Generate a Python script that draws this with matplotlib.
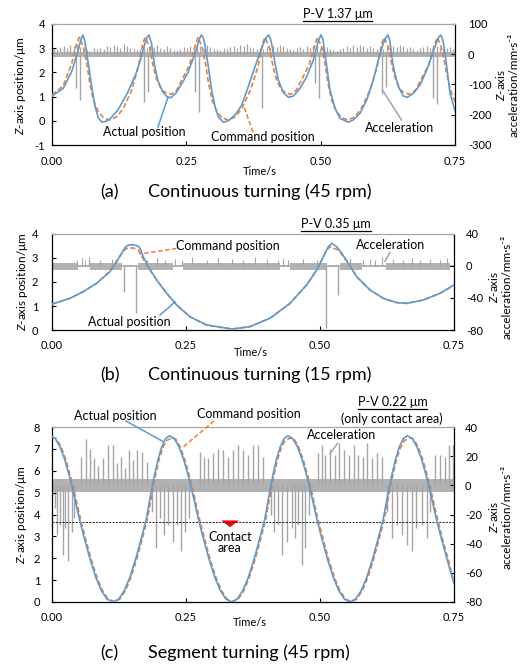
import numpy as np
import matplotlib
matplotlib.use('Agg')
import matplotlib.pyplot as plt
from matplotlib.lines import Line2D

plt.rcParams['font.family'] = ['Lato', 'DejaVu Sans']
plt.rcParams['axes.unicode_minus'] = False
plt.rcParams['mathtext.fontset'] = 'custom'
plt.rcParams['mathtext.it'] = 'Lato:italic'
plt.rcParams['mathtext.rm'] = 'Lato'

# ---------------- data ----------------
x_ticks = [0.0, 0.25, 0.5, 0.75]
x_tick_labels = ['0.00', '0.25', '0.50', '0.75']

# Panel (a) continuous turning 45 rpm : (time s, position um)
a_actual = [
 (0.0000,1.02),(0.0210,1.34),(0.0367,2.03),(0.0489,2.93),(0.0536,3.35),(0.0573,3.55),(0.0610,3.30),
 (0.0676,2.37),(0.0739,1.41),(0.0800,0.60),(0.0862,0.12),(0.0925,-0.05),(0.1005,-0.02),(0.1080,0.08),
 (0.1228,0.45),(0.1415,1.20),(0.1563,1.95),(0.1656,2.60),(0.1731,3.20),(0.1768,3.45),(0.1802,3.55),
 (0.1852,3.20),(0.1908,2.30),(0.1973,1.65),(0.2057,1.20),(0.2150,0.97),(0.2215,0.96),(0.2308,1.15),
 (0.2420,1.55),(0.2531,2.00),(0.2624,2.55),(0.2708,3.10),(0.2745,3.40),(0.2782,3.55),(0.2820,3.40),
 (0.2848,3.10),(0.2909,2.24),(0.2972,1.27),(0.3034,0.58),(0.3095,0.17),(0.3188,-0.06),(0.3281,0.00),
 (0.3406,0.24),(0.3531,0.65),(0.3653,1.41),(0.3778,2.24),(0.3903,3.00),(0.3973,3.40),(0.4029,3.55),
 (0.4067,3.38),(0.4104,3.00),(0.4150,2.37),(0.4212,1.69),(0.4305,1.17),(0.4398,0.97),(0.4491,1.02),
 (0.4616,1.34),(0.4740,1.82),(0.4863,2.51),(0.4932,3.10),(0.4969,3.38),(0.5007,3.55),(0.5044,3.35),
 (0.5113,2.24),(0.5174,1.27),(0.5267,0.51),(0.5360,0.10),(0.5515,-0.06),(0.5608,0.04),(0.5732,0.31),
 (0.5857,0.86),(0.5980,1.69),(0.6073,2.51),(0.6166,3.20),(0.6211,3.42),(0.6248,3.55),(0.6285,3.35),
 (0.6328,2.60),(0.6365,2.10),(0.6445,1.41),(0.6538,1.02),(0.6613,0.97),(0.6724,1.13),(0.6849,1.48),
 (0.6974,2.10),(0.7097,2.86),(0.7171,3.34),(0.7201,3.47),(0.7234,3.55),(0.7272,3.35),(0.7296,3.06),
 (0.7346,2.24),(0.7408,1.13),(0.7500,0.42)]

a_command = [
 (0.0000,1.07),(0.0210,1.45),(0.0367,2.37),(0.0447,3.10),(0.0508,3.45),(0.0583,3.06),(0.0648,2.37),
 (0.0704,1.55),(0.0769,0.86),(0.0862,0.38),(0.0955,0.13),(0.1076,0.03),(0.1206,0.17),(0.1327,0.52),
 (0.1485,1.27),(0.1606,2.24),(0.1690,3.20),(0.1736,3.45),(0.1820,3.00),(0.1885,2.24),(0.1950,1.69),
 (0.2043,1.27),(0.2137,1.14),(0.2220,1.10),(0.2323,1.27),(0.2416,1.69),(0.2559,2.30),(0.2671,3.15),
 (0.2717,3.45),(0.2792,3.06),(0.2857,2.37),(0.2913,1.55),(0.2978,0.86),(0.3071,0.38),(0.3164,0.13),
 (0.3285,0.03),(0.3415,0.17),(0.3536,0.52),(0.3694,1.27),(0.3834,2.24),(0.3918,3.20),(0.3964,3.45),
 (0.4048,3.00),(0.4113,2.24),(0.4178,1.69),(0.4271,1.27),(0.4364,1.14),(0.4448,1.10),(0.4550,1.27),
 (0.4644,1.69),(0.4783,2.30),(0.4895,3.15),(0.4941,3.45),(0.5016,3.06),(0.5081,2.37),(0.5137,1.55),
 (0.5202,0.86),(0.5295,0.38),(0.5388,0.13),(0.5509,0.03),(0.5639,0.17),(0.5760,0.52),(0.5918,1.27),
 (0.6052,2.24),(0.6136,3.20),(0.6183,3.45),(0.6266,3.00),(0.6331,2.24),(0.6397,1.69),(0.6490,1.27),
 (0.6583,1.14),(0.6666,1.10),(0.6769,1.27),(0.6862,1.69),(0.7011,2.30),(0.7122,3.15),(0.7169,3.45),
 (0.7243,3.06),(0.7309,2.37),(0.7379,1.60),(0.7444,1.10),(0.7500,0.80)]

# acceleration (mm/s^2): regular small upward pulses, deep downward pulses, noise band
a_acc_up_start = 0.003
a_acc_up_step = 0.0062
a_acc_up = [22,18,25,28,20,30,26,33,24,18,14,12,20,16,22,18,26,24,30,28,22,35,26,20,16,14,18,22,20,27,
            24,30,22,18,26,20,15,13,18,24,20,28,25,32,27,22,30,24,18,16,14,20,17,24,28,22,30,26,34,24,
            20,16,22,18,25,20,28,24,32,26,22,18,15,20,24,19,27,22,30,26,21,28,24,18,14,12,18,22,26,20,
            30,25,32,28,22,26,20,16,14,18,24,20,28,23,30,26,20,24,18,15,20,25,28,22,30,26,20,17,22,25,19]
a_acc_down = [(0.0452,-113),(0.0521,-151),(0.1718,-157),(0.1792,-124),(0.2661,-124),(0.2736,-190),
              (0.3914,-179),(0.4895,-96),(0.4975,-146),(0.6136,-130),(0.6216,-107),(0.7097,-146),(0.7171,-165)]
a_band = (-8, 6)

# Panel (b) continuous turning 15 rpm
b_actual = [
 (0.0000,1.08),(0.0336,1.32),(0.0584,1.60),(0.0834,1.95),(0.1082,2.43),(0.1207,2.85),(0.1300,3.20),
 (0.1362,3.44),(0.1424,3.54),(0.1511,3.55),(0.1604,3.50),(0.1642,3.40),(0.1703,3.05),(0.1797,2.64),
 (0.1953,2.08),(0.2140,1.53),(0.2327,1.04),(0.2575,0.55),(0.2886,0.21),(0.3358,0.04),(0.3694,0.14),
 (0.4067,0.49),(0.4440,1.11),(0.4752,1.88),(0.4938,2.50),(0.5062,3.05),(0.5155,3.47),(0.5218,3.61),
 (0.5312,3.47),(0.5405,3.20),(0.5528,2.78),(0.5685,2.22),(0.5933,1.67),(0.6181,1.32),(0.6431,1.14),
 (0.6618,1.11),(0.6927,1.25),(0.7239,1.53),(0.7500,1.88)]
b_command = [
 (0.0000,1.08),(0.0336,1.32),(0.0584,1.60),(0.0834,1.95),(0.1082,2.45),(0.1237,2.99),(0.1343,3.30),
 (0.1394,3.40),(0.1511,3.42),(0.1610,3.33),(0.1767,2.71),(0.1953,2.08),(0.2140,1.53),(0.2327,1.04),
 (0.2575,0.55),(0.2886,0.20),(0.3358,0.04),(0.3694,0.14),(0.4067,0.49),(0.4440,1.11),(0.4752,1.88),
 (0.4938,2.50),(0.5062,3.05),(0.5112,3.30),(0.5187,3.47),(0.5341,3.33),(0.5528,2.78),(0.5685,2.22),
 (0.5933,1.67),(0.6181,1.32),(0.6431,1.14),(0.6618,1.11),(0.6927,1.25),(0.7239,1.53),(0.7500,1.86)]
b_acc_up = [(0.0473,8),(0.0553,10),(0.0616,7),(0.0697,11),(0.0896,8),(0.1113,9),(0.1766,8),(0.1953,10),
            (0.2108,7),(0.2295,9),(0.2419,8),(0.2606,11),(0.2886,8),(0.3103,10),(0.3352,9),(0.3570,8),
            (0.3787,11),(0.4005,9),(0.4223,8),(0.4316,10),(0.4409,7),(0.4689,9),(0.4938,8),(0.5560,10),
            (0.5808,8),(0.5933,9),(0.6026,7),(0.6151,11),(0.6368,9),(0.6555,8),(0.6710,10),(0.6866,8),
            (0.7052,9),(0.7239,7),(0.7363,10)]
b_acc_down = [(0.134,-32),(0.157,-59),(0.512,-77),(0.534,-36)]
b_band_segments = [(0.0,0.049),(0.071,0.130),(0.161,0.226),(0.245,0.425),(0.444,0.5125),(0.537,0.578),(0.624,0.7425)]
b_band = (-4.5, 4.0)
b_band_thin = (-1.8, 1.8)

# Panel (c) segment turning 45 rpm
c_actual = [
 (0.000,7.56),(0.006,7.47),(0.015,7.09),(0.024,6.49),(0.033,5.70),(0.042,4.78),(0.051,3.80),(0.0613,2.82),
 (0.0717,1.90),(0.082,1.11),(0.0923,0.51),(0.1027,0.13),(0.114,0.00),
 (0.1243,0.13),(0.1347,0.51),(0.145,1.11),(0.1553,1.90),(0.1657,2.82),(0.176,3.80),(0.1832,4.78),
 (0.1903,5.70),(0.1975,6.49),(0.2047,7.09),(0.2118,7.47),(0.219,7.60),
 (0.228,7.47),(0.237,7.09),(0.246,6.49),(0.255,5.70),(0.264,4.78),(0.273,3.80),(0.2833,2.82),(0.2937,1.90),
 (0.304,1.11),(0.3143,0.51),(0.3247,0.13),(0.335,0.00),
 (0.3453,0.13),(0.3557,0.51),(0.366,1.11),(0.3763,1.90),(0.3867,2.82),(0.397,3.80),(0.4042,4.78),
 (0.4113,5.70),(0.4185,6.49),(0.4257,7.09),(0.4328,7.47),(0.440,7.60),
 (0.449,7.47),(0.458,7.09),(0.467,6.49),(0.476,5.70),(0.485,4.78),(0.494,3.80),(0.5043,2.82),(0.5147,1.90),
 (0.525,1.11),(0.5353,0.51),(0.5457,0.13),(0.556,0.00),
 (0.5663,0.13),(0.5767,0.51),(0.587,1.11),(0.5973,1.90),(0.6077,2.82),(0.618,3.80),(0.6255,4.78),
 (0.633,5.70),(0.6405,6.49),(0.648,7.09),(0.6555,7.47),(0.663,7.60),
 (0.672,7.47),(0.681,7.09),(0.690,6.49),(0.699,5.70),(0.708,4.78),(0.717,3.80),(0.7273,2.82),(0.7377,1.90),
 (0.750,0.85)]
c_command = [
 (0.000,7.55),(0.008,7.47),(0.017,7.09),(0.026,6.49),(0.035,5.70),(0.044,4.78),(0.053,3.80),(0.0633,2.82),
 (0.0737,1.90),(0.084,1.11),(0.0943,0.51),(0.1047,0.13),(0.116,0.02),
 (0.1263,0.13),(0.1367,0.51),(0.147,1.11),(0.1573,1.90),(0.1677,2.82),(0.178,3.80),(0.1852,4.78),
 (0.1923,5.70),(0.1995,6.49),(0.2067,7.05),(0.2138,7.38),(0.221,7.47),(0.226,7.50),(0.231,7.44),
 (0.239,7.09),(0.248,6.49),(0.257,5.70),(0.266,4.78),(0.275,3.80),(0.2853,2.82),(0.2957,1.90),(0.306,1.11),
 (0.3163,0.51),(0.3267,0.13),(0.337,0.02),
 (0.3473,0.13),(0.3577,0.51),(0.368,1.11),(0.3783,1.90),(0.3887,2.82),(0.399,3.80),(0.4062,4.78),
 (0.4133,5.70),(0.4205,6.49),(0.4277,7.05),(0.4348,7.38),(0.442,7.47),(0.447,7.50),(0.452,7.44),
 (0.460,7.09),(0.469,6.49),(0.478,5.70),(0.487,4.78),(0.496,3.80),(0.5063,2.82),(0.5167,1.90),(0.527,1.11),
 (0.5373,0.51),(0.5477,0.13),(0.558,0.02),
 (0.5683,0.13),(0.5787,0.51),(0.589,1.11),(0.5993,1.90),(0.6097,2.82),(0.620,3.80),(0.6275,4.78),
 (0.635,5.70),(0.6425,6.49),(0.650,7.05),(0.6575,7.38),(0.665,7.47),(0.670,7.50),(0.675,7.44),
 (0.683,7.09),(0.692,6.49),(0.701,5.70),(0.710,4.78),(0.719,3.80),(0.7293,2.82),(0.7397,1.90),(0.750,0.88)]
c_acc_up = [(0.055,19.6),(0.063,32),(0.071,25),(0.079,18.5),(0.086,13),(0.096,18.5),(0.105,27.7),(0.113,27.7),
            (0.121,15),(0.129,19.6),(0.136,11.7),(0.144,24.3),(0.152,17.4),(0.159,24.3),(0.167,23.2),(0.177,16.3),
            (0.276,23.2),(0.2836,19.6),(0.2916,18.5),(0.301,21.9),(0.310,25),(0.3196,24.3),(0.329,19.6),
            (0.338,24.3),(0.3476,27.7),(0.357,24.3),(0.366,20.8),(0.3756,27.7),(0.385,27.7),(0.394,19.6),
            (0.497,21.9),(0.503,27.7),(0.509,20.8),(0.519,25),(0.528,20.8),(0.536,28.8),(0.545,24.3),
            (0.555,20.8),(0.563,27.7),(0.5715,20.8),(0.581,19.6),(0.588,28.8),(0.5976,18.5),(0.606,21.9),
            (0.615,19.6),(0.7146,20.8),(0.724,20.8),(0.733,19.6),(0.741,27.7),(0.7476,27.7)]
c_acc_down = [(0.006,-15.8),(0.010,-34),(0.015,-27),(0.020,-48),(0.024,-29.5),(0.030,-52),(0.037,-31.8),
              (0.041,-22.6),(0.186,-18),(0.194,-43),(0.2015,-22.6),(0.209,-34),(0.217,-27),(0.225,-38.6),
              (0.233,-27),(0.240,-45),(0.248,-31.8),(0.256,-22.6),(0.408,-20),(0.414,-31.8),(0.422,-27),
              (0.430,-48),(0.439,-38.6),(0.447,-29.5),(0.453,-36),(0.4595,-27),(0.466,-54.6),(0.472,-43),
              (0.480,-20),(0.6245,-18),(0.634,-36),(0.643,-27),(0.6525,-34),(0.662,-40.9),(0.671,-45),
              (0.680,-29.5),(0.690,-27),(0.699,-36),(0.705,-18)]
c_band = (-4.6, 4.6)
c_contact_level = 3.67

# ---------------- style ----------------
BLUE = '#5B9BD5'
ORANGE = '#ED7D31'
GRAY = '#A5A5A5'
BAND = '#B2B2B2'
W, H = 523, 668
FS_TICK = 8
FS_ANN = 9
FS_LAB = 8.5
FS_CAP = 13

fig = plt.figure(figsize=(W / 100, H / 100), dpi=100)
fig.patch.set_facecolor('white')


def P(px, py):
    return (px / W, 1 - py / H)


def make_panel(box, ylim, yticks, y2lim, y2ticks, lpad, rpad, xpad):
    l, t, r, b = box
    ax = fig.add_axes([l / W, 1 - b / H, (r - l) / W, (b - t) / H])
    ax2 = ax.twinx()
    ax.set_zorder(ax2.get_zorder() + 1)
    ax.patch.set_visible(False)
    ax.set_xlim(0, 0.75)
    ax.set_xticks(x_ticks)
    ax.set_xticklabels(x_tick_labels)
    ax.set_ylim(*ylim)
    ax.set_yticks(yticks)
    ax2.set_ylim(*y2lim)
    ax2.set_yticks(y2ticks)
    for s in ['left', 'bottom']:
        ax.spines[s].set_color('black')
        ax.spines[s].set_linewidth(0.9)
    ax.spines['top'].set_color('#A6A6A6')
    ax.spines['top'].set_linewidth(0.9)
    ax.spines['right'].set_visible(False)
    for s in ['left', 'bottom', 'top']:
        ax2.spines[s].set_visible(False)
    ax2.spines['right'].set_color('black')
    ax2.spines['right'].set_linewidth(0.9)
    ax.tick_params(axis='x', direction='in', length=3, width=0.8, pad=xpad, labelsize=FS_TICK, top=False)
    ax.tick_params(axis='y', direction='in', length=3, width=0.8, pad=lpad, labelsize=FS_TICK, right=False)
    ax2.tick_params(axis='y', direction='in', length=3, width=0.8, pad=rpad, labelsize=FS_TICK)
    return ax, ax2


def curves(ax, actual, command):
    ta, za = zip(*actual)
    tc, zc = zip(*command)
    ax.plot(tc, zc, color=ORANGE, lw=1.2, ls=(0, (3, 1.6)), zorder=3)
    ax.plot(ta, za, color=BLUE, lw=1.2, zorder=4)


def spikes(ax2, pairs, lw=0.9):
    t, v = zip(*pairs)
    ax2.vlines(t, 0, v, colors=GRAY, lw=lw)


def leader(x0, y0, x1, y1, color, ls='-'):
    fig.add_artist(Line2D([x0 / W, x1 / W], [1 - y0 / H, 1 - y1 / H], transform=fig.transFigure,
                          color=color, lw=1.1, ls=ls))


def txt(px, py, s, size=FS_ANN, **kw):
    return fig.text(px / W, 1 - py / H, s, ha=kw.pop('ha', 'center'), va=kw.pop('va', 'center'),
                    fontsize=size, **kw)


def underlined(px, py_base, s, size=FS_ANN):
    t = fig.text(px / W, 1 - py_base / H, s, ha='center', va='baseline', fontsize=size)
    fig.canvas.draw()
    bb = t.get_window_extent()
    yy = 1 - (py_base + 2.6) / H
    fig.add_artist(Line2D([bb.x0 / W, bb.x1 / W], [yy, yy], transform=fig.transFigure, color='black', lw=0.9))


ylab = r'$Z$-axis position/μm'
y2lab = '$Z$-axis\nacceleration/mm·s⁻²'

# ---------------- panel (a) ----------------
ax, ax2 = make_panel((52, 24, 455, 145), (-1, 4), [-1, 0, 1, 2, 3, 4], (-300, 100),
                     [-300, -200, -100, 0, 100], 5, 9.4, 8)
ax2.axhspan(a_band[0], a_band[1], color=BAND, lw=0)
a_up_t = a_acc_up_start + a_acc_up_step * np.arange(len(a_acc_up))
ax2.vlines(a_up_t, 0, a_acc_up, colors=GRAY, lw=0.9)
spikes(ax2, a_acc_down, lw=1.0)
curves(ax, a_actual, a_command)
txt(21, 86, ylab, FS_LAB, rotation=90)
txt(507, 85, y2lab, FS_LAB, rotation=90, multialignment='center')
txt(260, 172, 'Time/s', 8)
txt(144.5, 132, 'Actual position')
leader(158, 127, 168, 97, BLUE)
txt(263, 137, 'Command position')
leader(253, 132, 244, 107, ORANGE, ls=(0, (3, 1.6)))
txt(399.5, 128, 'Acceleration')
leader(401.5, 120, 382.5, 90, GRAY)
underlined(337.5, 18.5, 'P-V 1.37 μm')
txt(100, 192, '(a)', FS_CAP, ha='left')
txt(148, 192, 'Continuous turning (45 rpm)', FS_CAP, ha='left')

# ---------------- panel (b) ----------------
ax, ax2 = make_panel((52, 234, 454, 330), (0, 4), [0, 1, 2, 3, 4], (-80, 40),
                     [-80, -40, 0, 40], 10, 8.6, 7.5)
ax2.axhspan(b_band_thin[0], b_band_thin[1], color=BAND, lw=0)
for s0, s1 in b_band_segments:
    ax2.fill_between([s0, s1], b_band[0], b_band[1], color=BAND, lw=0)
spikes(ax2, b_acc_up, lw=0.8)
spikes(ax2, b_acc_down, lw=1.0)
curves(ax, b_actual, b_command)
txt(23, 282, ylab, FS_LAB, rotation=90)
txt(500, 287, y2lab, FS_LAB, rotation=90, multialignment='center')
txt(251, 352, 'Time/s', 8)
txt(228, 246, 'Command position')
leader(176.5, 248.5, 140, 254, ORANGE, ls=(0, (3, 1.6)))
txt(129.5, 322.5, 'Actual position')
leader(160, 315, 175, 302, BLUE)
txt(390.5, 245, 'Acceleration')
leader(390, 252.5, 385, 261.5, GRAY)
underlined(336, 228.5, 'P-V 0.35 μm')
txt(100, 375, '(b)', FS_CAP, ha='left')
txt(148, 375, 'Continuous turning (15 rpm)', FS_CAP, ha='left')

# ---------------- panel (c) ----------------
ax, ax2 = make_panel((52, 427, 454, 602), (0, 8), list(range(0, 9)), (-80, 40),
                     [-80, -60, -40, -20, 0, 20, 40], 8.5, 8, 7)
ax2.axhspan(c_band[0], c_band[1], color=BAND, lw=0)
spikes(ax2, c_acc_up, lw=1.0)
spikes(ax2, c_acc_down, lw=1.0)
ax.axhline(c_contact_level, color='black', lw=0.6, ls=(0, (2.5, 1.5)), zorder=2)
curves(ax, c_actual, c_command)
txt(22, 515, ylab, FS_LAB, rotation=90)
txt(500, 517, y2lab, FS_LAB, rotation=90, multialignment='center')
txt(250, 622, 'Time/s', 8)
txt(115, 416, 'Actual position')
leader(126, 421, 163, 441.5, BLUE)
txt(249, 413.5, 'Command position')
leader(214, 421, 182, 448, ORANGE, ls=(0, (3, 1.6)))
txt(341.7, 435, 'Acceleration')
leader(337.5, 443.5, 330, 453.5, GRAY)
underlined(392.5, 406.5, 'P-V 0.22 μm')
txt(392, 419, '(only contact area)')
fig.add_artist(matplotlib.patches.FancyArrowPatch(P(230, 519.5), P(230, 530), transform=fig.transFigure,
               arrowstyle='simple,head_width=0.9,head_length=0.35,tail_width=0.5', mutation_scale=14,
               color='#FF0000', lw=0))
txt(230, 537, 'Contact', FS_ANN)
txt(230, 548, 'area', FS_ANN)
txt(100, 653, '(c)', FS_CAP, ha='left')
txt(148, 653, 'Segment turning (45 rpm)', FS_CAP, ha='left')

fig.savefig('out.png', dpi=100)
